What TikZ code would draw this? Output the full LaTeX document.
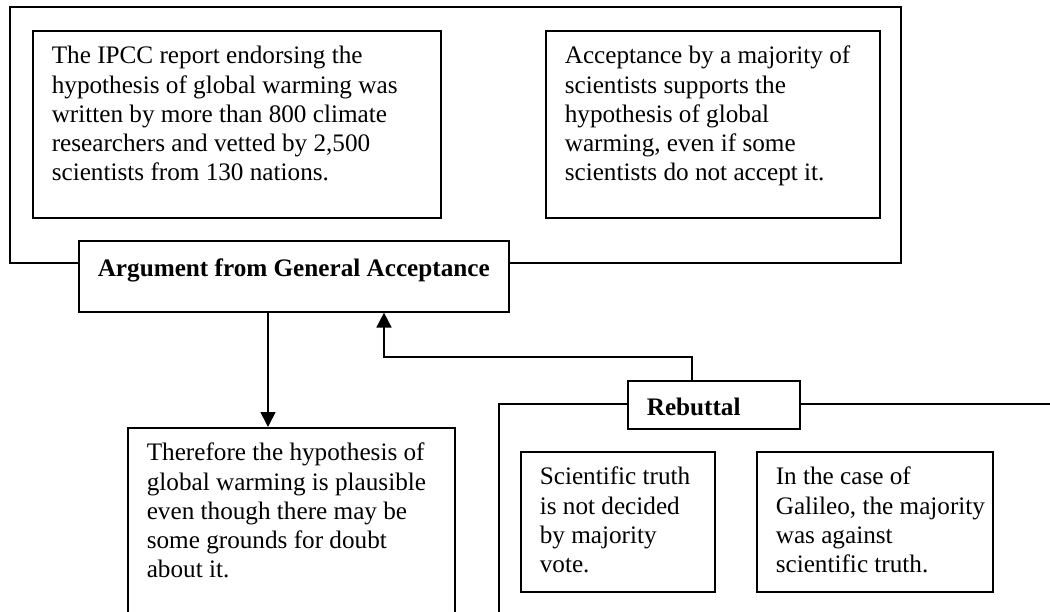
\documentclass[tikz,border=0pt]{standalone}
\usepackage{fontspec}
\setmainfont{Liberation Serif}
\usetikzlibrary{arrows.meta}
\newcommand{\boxpar}[4][16.5pt]{\parbox[t][#3][t]{#2}{\raggedright\rule{0pt}{#1}#4}}
\begin{document}
\begin{tikzpicture}[x=0.5pt,y=-0.5pt,
    frame/.style={line width=0.8pt},
    box/.style={draw,line width=0.8pt,fill=white,anchor=north west,
      inner xsep=9.5pt,inner ysep=0pt,font=\fontsize{12.6}{14.6}\selectfont},
    label/.style={box,font=\fontsize{12.6}{14.6}\selectfont\bfseries},
    arrow/.style={line width=0.8pt,-{Triangle[length=7.5pt,width=7.5pt]}}]
  \useasboundingbox (0,0) rectangle (1050,611);
  \clip (0,0) rectangle (1050,611);
  \draw[frame] (10,7) rectangle (901,263);
  \draw[frame] (499,660) |- (1080,404);
  \node[box] (ipcc) at (32,30) {\boxpar{185pt}{93.5pt}{The IPCC report endorsing the\\
    hypothesis of global warming was\\ written by more than 800 climate\\
    researchers and vetted by 2,500\\ scientists from 130 nations.}};
  \node[box] (accept) at (545,30) {\boxpar{148pt}{93.5pt}{Acceptance by a majority of\\
    scientists supports the\\ hypothesis of global\\ warming, even if some\\
    scientists do not accept it.}};
  \node[label] (argument) at (78,240) {\boxpar[18pt]{196pt}{35.5pt}{Argument from General Acceptance}};
  \node[box] (concl) at (127,427) {\boxpar{144.5pt}{115pt}{Therefore the hypothesis of\\
    global warming is plausible\\ even though there may be\\ some grounds for doubt\\
    about it.}};
  \node[label] (rebuttal) at (627,380) {\boxpar[17.5pt]{67pt}{24pt}{Rebuttal}};
  \node[box] (science) at (520,451) {\boxpar{78pt}{70pt}{Scientific truth\\
    is not decided\\ by majority\\ vote.}};
  \node[box] (galileo) at (756,451) {\boxpar{99pt}{70pt}{In the case of\\
    \mbox{Galileo, the majority}\\ was against\\ scientific truth.}};
  \coordinate (down) at (268,0);
  \draw[arrow] (down |- argument.south) -- (down |- concl.north);
  \coordinate (bend) at (384,357);
  \coordinate (rise) at (692,0);
  \draw[arrow] (rise |- rebuttal.north) |- (bend) -- (bend |- argument.south);
\end{tikzpicture}
\end{document}
